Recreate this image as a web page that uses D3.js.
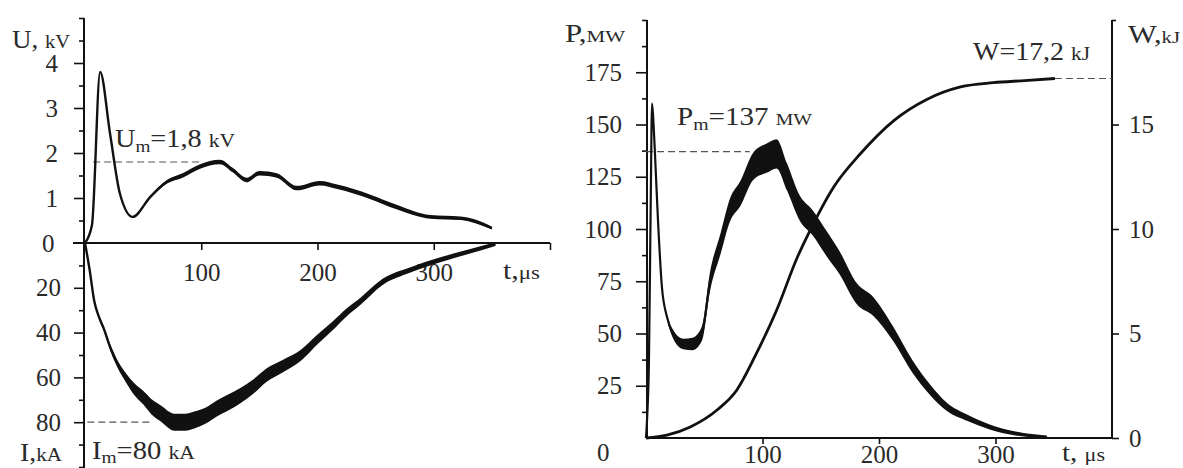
<!DOCTYPE html>
<html>
<head>
<meta charset="utf-8">
<script src="https://cdn.jsdelivr.net/npm/d3@7"></script>
<style>
  body { margin: 0; background: #fff; }
  svg { display: block; }
  svg text { font-family: "Liberation Serif", "DejaVu Serif", serif; }
  .tick text { font-size: 25px; fill: #2a2a2a; font-family: "Liberation Serif", "DejaVu Serif", serif; }
  .tick line { stroke: #111; stroke-width: 1.6; }
</style>
</head>
<body>
<div id="chart"></div>
<script>
document.addEventListener("DOMContentLoaded", function() {
    const width = 1183, height = 468;

    // voltage U (kV), left panel, upper half
    const uTime = [0, 6, 13, 21.5, 30, 41, 56, 70.5, 84, 99, 116, 127, 139, 150, 165, 182, 202, 217, 245, 268, 297, 323, 337, 350];
    const uVolt = [0, 0.4, 3.8, 2.44, 1.1, 0.58, 1.02, 1.36, 1.5, 1.7, 1.8, 1.62, 1.4, 1.55, 1.5, 1.22, 1.33, 1.25, 1.03, 0.8, 0.58, 0.55, 0.47, 0.33];
    const uNoise = [0, 0, 0, 0, 0, 0, 0.03, 0.04, 0.05, 0.05, 0.05, 0.05, 0.05, 0.05, 0.05, 0.05, 0.05, 0.05, 0.05, 0.05, 0.04, 0.04, 0.04, 0.03];

    // current I (kA), left panel, lower half (drawn downward)
    const iTime = [0, 4, 8, 12, 16, 22, 27, 35, 42, 50, 57, 65, 77, 86, 94, 104, 113, 124, 134, 145, 156, 170, 186, 200, 213, 225, 237, 256, 280, 305, 329, 353];
    const iCurr = [0, 12, 26, 33, 38, 47, 53, 60, 65, 69, 73, 76, 80, 80, 79, 77, 74, 71, 68, 64, 59, 55, 50, 43, 37, 31, 26, 17.4, 12, 7.6, 4, 0.5];
    const iNoise = [0, 0.3, 0.5, 0.8, 1, 1.3, 1.6, 2, 2.6, 3, 3.4, 3.6, 3.8, 3.8, 3.8, 3.6, 3.6, 3.6, 3.4, 3.2, 3, 2.8, 2.5, 2.2, 2, 1.8, 1.6, 1.4, 1.2, 1.1, 1, 0.8];

    // power P (MW), right panel
    const pTime = [0, 1, 2.5, 4, 5.2, 6.5, 7.7, 10.3, 13.7, 18, 23, 32, 40, 48, 55, 64, 72, 81, 92, 104, 112, 121, 132, 143, 155, 166, 181, 195, 212, 229, 244, 258, 276, 295, 315, 344];
    const pPow = [0, 10, 36, 110, 160, 150, 136, 104, 72, 58, 50, 45, 45, 50, 75, 93, 109, 117, 130, 134, 136, 125, 110, 103, 93, 84, 69, 63, 50, 34, 23, 15, 9.6, 5.3, 2.4, 0.5];
    const pNoise = [0, 0, 0, 0, 0, 0, 0, 0, 0.5, 1, 2, 2.5, 3, 3.5, 4.5, 5, 5.5, 6, 6.5, 7, 7, 6.5, 6, 6, 6, 5.5, 5, 4.5, 3.5, 3, 2.5, 2, 1.5, 1.2, 1, 0.6];

    // energy W (kJ), right panel, right axis
    const wTime = [0, 18, 38, 61, 78, 95, 112, 130, 141, 161, 184, 213, 241, 270, 298, 325, 351];
    const wEnergy = [0, 0.14, 0.53, 1.34, 2.3, 4.07, 6.1, 8.66, 9.95, 12, 13.6, 15.2, 16.2, 16.8, 17.0, 17.1, 17.2];

    // tick values
    const uTicks = [1, 2, 3, 4];
    const uMinor = [0.5, 1.5, 2.5, 3.5, 4.5, 5];
    const iTicks = [20, 40, 60, 80];
    const iMinor = [10, 30, 50, 70, 90, 100];
    const tTicks = [100, 200, 300, 400];
    const pTicks = [25, 50, 75, 100, 125, 150, 175];
    const pMinor = [12.5, 37.5, 62.5, 87.5, 112.5, 137.5, 162.5, 187.5, 200];
    const wTicks = [0, 5, 10, 15];
    const wMinor = [20];

    const Um = 1.8, Im = 80, Pm = 137, Wtot = 17.2;

    const svg = d3.select("#chart")
        .append("svg")
        .attr("width", width)
        .attr("height", height);

    // scales
    const tL = d3.scaleLinear().domain([0, 400]).range([85, 550]);
    const uY = d3.scaleLinear().domain([0, 5]).range([243, 18]);
    const iY = d3.scaleLinear().domain([0, 100]).range([243, 467]);
    const tR = d3.scaleLinear().domain([0, 400]).range([646, 1112]);
    const pY = d3.scaleLinear().domain([0, 200]).range([438, 20]);
    const wY = d3.scaleLinear().domain([0, 20]).range([438, 20]);

    const fmt = d => d.toString().replace(".", ",");

    function addAxis(axis, x, y) {
        const g = svg.append("g")
            .attr("transform", `translate(${x},${y})`)
            .call(axis);
        g.select(".domain").remove();
        return g;
    }

    // ---------- left panel axes ----------
    addAxis(d3.axisLeft(uY).tickValues(uTicks).tickSize(10).tickPadding(16).tickFormat(fmt), 84, 0);
    addAxis(d3.axisLeft(uY).tickValues(uMinor).tickSize(5).tickFormat(""), 84, 0);
    addAxis(d3.axisLeft(iY).tickValues(iTicks).tickSize(10).tickPadding(13).tickFormat(fmt), 84, 0);
    addAxis(d3.axisLeft(iY).tickValues(iMinor).tickSize(5).tickFormat(""), 84, 0);
    addAxis(d3.axisBottom(tL).tickValues(tTicks).tickSize(7).tickPadding(13)
        .tickFormat(d => d < 400 ? d : ""), 0, 243);

    svg.append("line").attr("x1", 84).attr("x2", 84).attr("y1", uY(5)).attr("y2", height)
        .attr("stroke", "#111").attr("stroke-width", 2);
    svg.append("line").attr("x1", 73).attr("x2", tL(400)).attr("y1", 243).attr("y2", 243)
        .attr("stroke", "#111").attr("stroke-width", 2);

    // ---------- right panel axes ----------
    addAxis(d3.axisLeft(pY).tickValues(pTicks).tickSize(11).tickPadding(14), 647, 0);
    addAxis(d3.axisLeft(pY).tickValues(pMinor).tickSize(5).tickFormat(""), 647, 0);
    addAxis(d3.axisRight(wY).tickValues(wTicks).tickSize(7).tickPadding(10), 1112, 0);
    addAxis(d3.axisRight(wY).tickValues(wMinor).tickSize(4).tickFormat(""), 1112, 0);
    addAxis(d3.axisBottom(tR).tickValues([100, 200, 300]).tickSize(6).tickPadding(1), 0, 438);

    svg.append("line").attr("x1", 647).attr("x2", 647).attr("y1", pY(200)).attr("y2", 438)
        .attr("stroke", "#111").attr("stroke-width", 2);
    svg.append("line").attr("x1", 1112).attr("x2", 1112).attr("y1", wY(20)).attr("y2", 438)
        .attr("stroke", "#111").attr("stroke-width", 2);
    svg.append("line").attr("x1", 647).attr("x2", 1112).attr("y1", 438).attr("y2", 438)
        .attr("stroke", "#111").attr("stroke-width", 2);

    // ---------- dashed reference lines ----------
    const dash = (x1, x2, y) => svg.append("line")
        .attr("x1", x1).attr("x2", x2).attr("y1", y).attr("y2", y)
        .attr("stroke", "#555").attr("stroke-width", 1.2).attr("stroke-dasharray", "7,4");
    dash(tL(7), tL(101), uY(Um));
    dash(tL(2), tL(58), iY(Im));
    dash(tR(0), tR(89), pY(Pm));
    dash(tR(351), tR(400), wY(Wtot));

    // ---------- curves ----------
    const curve = d3.curveMonotoneX;

    function trace(x, y, data, sw) {
        // envelope of the jittery trace, then the mean line on top
        svg.append("path")
            .datum(data)
            .attr("fill", "#111")
            .attr("d", d3.area().curve(curve)
                .x(d => x(d.t)).y0(d => y(d.v - d.n)).y1(d => y(d.v + d.n)));
        svg.append("path")
            .datum(data)
            .attr("fill", "none").attr("stroke", "#111").attr("stroke-width", sw)
            .attr("stroke-linejoin", "round")
            .attr("d", d3.line().curve(curve).x(d => x(d.t)).y(d => y(d.v)));
    }

    trace(tL, iY, iTime.map((t, k) => ({ t, v: iCurr[k], n: iNoise[k] })), 2.4);
    trace(tL, uY, uTime.map((t, k) => ({ t, v: uVolt[k], n: uNoise[k] })), 2.4);
    trace(tR, pY, pTime.map((t, k) => ({ t, v: pPow[k], n: pNoise[k] })), 2.2);

    const wData = wTime.map((t, k) => ({ t, v: wEnergy[k] }));
    svg.append("path")
        .datum(wData)
        .attr("fill", "none").attr("stroke", "#111").attr("stroke-width", 2.8)
        .attr("d", d3.line().curve(curve).x(d => tR(d.t)).y(d => wY(d.v)));

    // ---------- text ----------
    function label(x, y, parts, w) {
        const t = svg.append("text").attr("x", x).attr("y", y).attr("fill", "#2a2a2a");
        parts.forEach(p => {
            const s = t.append("tspan").text(p[0]).attr("font-size", p[1]);
            if (p[2]) s.attr("dy", p[2]);
        });
        if (w) t.attr("textLength", w).attr("lengthAdjust", "spacingAndGlyphs");
        return t;
    }

    label(12, 48, [["U, ", 25], ["kV", 19]], 58);
    label(42, 252, [["0", 25]]);
    label(20, 461, [["I,", 25], ["kA", 19]], 42);
    label(115, 147, [["U", 25], ["m", 17, 5], ["=1,8 ", 25, -5], ["kV", 19]], 120);
    label(92, 459, [["I", 25], ["m", 17, 4], ["=80 ", 25, -4], ["kA", 19]], 103);
    label(503, 279, [["t,", 25], ["μs", 19]], 37);

    label(565, 42, [["P,", 25], ["MW", 17]], 60);
    label(597, 461, [["0", 25]]);
    label(677, 125, [["P", 25], ["m", 17, 5], ["=137 ", 25, -5], ["MW", 17]], 135);
    label(973, 60, [["W=17,2 ", 25], ["kJ", 19]], 117);
    label(1128, 43, [["W,", 25], ["kJ", 17]], 52);
    label(1062, 461, [["t, ", 25], ["μs", 19]], 43);
});
</script>
</body>
</html>
